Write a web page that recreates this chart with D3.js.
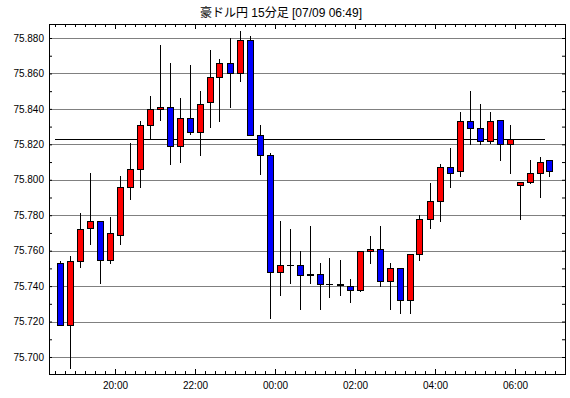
<!DOCTYPE html>
<html>
<head>
<meta charset="utf-8">
<script src="https://cdn.jsdelivr.net/npm/d3@7"></script>
<style>
  body { margin: 0; background: #fff; }
  text { font-family: "Liberation Sans", Arial, sans-serif; font-size: 10px; fill: #000; }
</style>
</head>
<body>
<svg id="chart" width="570" height="398"></svg>
<script>
var title = "豪ドル円 15分足 [07/09 06:49]";

var times = ["18:30", "18:45", "19:00", "19:15", "19:30", "19:45", "20:00", "20:15", "20:30", "20:45",
  "21:00", "21:15", "21:30", "21:45", "22:00", "22:15", "22:30", "22:45", "23:00", "23:15",
  "23:30", "23:45", "00:00", "00:15", "00:30", "00:45", "01:00", "01:15", "01:30", "01:45",
  "02:00", "02:15", "02:30", "02:45", "03:00", "03:15", "03:30", "03:45", "04:00", "04:15",
  "04:30", "04:45", "05:00", "05:15", "05:30", "05:45", "06:00", "06:15", "06:30", "06:45"];

var open = [75.753, 75.718, 75.754, 75.773, 75.777, 75.755, 75.769, 75.796, 75.806, 75.831,
  75.840, 75.841, 75.819, 75.835, 75.827, 75.844, 75.858, 75.866, 75.860, 75.879,
  75.825, 75.814, 75.748, 75.752, 75.752, 75.746, 75.747, 75.741, 75.7405, 75.740,
  75.738, 75.760, 75.761, 75.743, 75.750, 75.732, 75.758, 75.778, 75.788, 75.807,
  75.805, 75.833, 75.829, 75.822, 75.834, 75.820, 75.797, 75.799, 75.804, 75.811];

var high = [75.754, 75.757, 75.781, 75.804, 75.777, 75.779, 75.802, 75.821, 75.833, 75.847,
  75.876, 75.866, 75.846, 75.865, 75.850, 75.873, 75.868, 75.880, 75.884, 75.881,
  75.831, 75.815, 75.777, 75.772, 75.760, 75.774, 75.753, 75.756, 75.755, 75.744,
  75.760, 75.768, 75.774, 75.753, 75.750, 75.758, 75.780, 75.798, 75.809, 75.818,
  75.838, 75.850, 75.843, 75.838, 75.834, 75.831, 75.799, 75.811, 75.813, 75.811];

var low = [75.718, 75.694, 75.751, 75.764, 75.742, 75.753, 75.764, 75.789, 75.796, 75.823,
  75.834, 75.809, 75.810, 75.826, 75.814, 75.830, 75.833, 75.841, 75.856, 75.825,
  75.803, 75.722, 75.735, 75.742, 75.727, 75.742, 75.727, 75.734, 75.735, 75.731,
  75.737, 75.753, 75.740, 75.727, 75.725, 75.725, 75.755, 75.773, 75.777, 75.796,
  75.802, 75.820, 75.820, 75.821, 75.811, 75.804, 75.778, 75.798, 75.790, 75.802];

var close = [75.718, 75.754, 75.772, 75.777, 75.755, 75.770, 75.796, 75.806, 75.831, 75.840,
  75.841, 75.819, 75.835, 75.827, 75.843, 75.858, 75.866, 75.860, 75.879, 75.825,
  75.814, 75.748, 75.752, 75.752, 75.746, 75.747, 75.741, 75.741, 75.741, 75.738,
  75.760, 75.761, 75.743, 75.750, 75.732, 75.758, 75.778, 75.788, 75.807, 75.804,
  75.833, 75.829, 75.822, 75.833, 75.820, 75.823, 75.799, 75.804, 75.810, 75.805];

var priceTicks = [75.700, 75.720, 75.740, 75.760, 75.780, 75.800, 75.820, 75.840, 75.860, 75.880];
var refPrice = 75.8232;

var upColor = "#ff0000";
var downColor = "#0000ff";

// times before noon belong to the next day
var parseTime = function (s) {
  var p = s.split(":").map(Number);
  return new Date(2012, 6, p[0] >= 12 ? 8 : 9, p[0], p[1]);
};

var candles = times.map(function (t, i) {
  return { t: parseTime(t), o: open[i], h: high[i], l: low[i], c: close[i] };
});

var svg = d3.select("#chart");
var plotLeft = 49, plotRight = 565, plotTop = 24, plotBottom = 374;

var x = d3.scaleTime()
  .domain([new Date(2012, 6, 8, 18, 21), new Date(2012, 6, 9, 7, 15)])
  .range([plotLeft, plotRight]);

var y = d3.scaleLinear()
  .domain([75.6904, 75.8879])
  .range([plotBottom, plotTop]);

var crisp = function (v) { return Math.round(v) + 0.5; };

svg.append("text")
  .attr("x", 281)
  .attr("y", 17)
  .attr("text-anchor", "middle")
  .style("font-size", "12px")
  .style("font-family", "'Liberation Sans', 'Noto Sans CJK JP', sans-serif")
  .text(title);

// dotted grid
svg.append("g")
  .selectAll("line")
  .data(priceTicks)
  .join("line")
  .attr("x1", plotLeft + 0.5)
  .attr("x2", plotRight + 0.5)
  .attr("y1", function (d) { return crisp(y(d)); })
  .attr("y2", function (d) { return crisp(y(d)); })
  .attr("stroke", "#000")
  .attr("stroke-width", 1)
  .attr("stroke-dasharray", "1,1");

// reference line
svg.append("line")
  .attr("x1", x(candles[0].t))
  .attr("x2", x(candles[candles.length - 1].t))
  .attr("y1", crisp(y(refPrice)))
  .attr("y2", crisp(y(refPrice)))
  .attr("stroke", "#000")
  .attr("stroke-width", 1);

// candles
var half = 7.5 * 60 * 1000;
var g = svg.append("g");
candles.forEach(function (d) {
  var cx = crisp(x(new Date(d.t.getTime() + half)) - 0.5);
  g.append("line")
    .attr("x1", cx).attr("x2", cx)
    .attr("y1", Math.round(y(d.h)))
    .attr("y2", Math.round(y(d.l)) + 1)
    .attr("stroke", "#000")
    .attr("stroke-width", 1);
  var y1 = crisp(y(Math.max(d.o, d.c)));
  var y2 = crisp(y(Math.min(d.o, d.c)));
  if (y2 - y1 < 1) {
    g.append("line")
      .attr("x1", cx - 3.5).attr("x2", cx + 3.5)
      .attr("y1", y1).attr("y2", y1)
      .attr("stroke", "#000");
  } else {
    g.append("rect")
      .attr("x", cx - 3)
      .attr("y", y1)
      .attr("width", 6)
      .attr("height", y2 - y1)
      .attr("fill", d.c >= d.o ? upColor : downColor)
      .attr("stroke", "#000")
      .attr("stroke-width", 1);
  }
});

// axes: ticks point inward on all four sides
var every15 = d3.timeMinute.every(15);
var every2h = d3.timeHour.every(2);
var minorPrice = y.ticks(20);

var addAxis = function (axis, tx, ty) {
  var a = svg.append("g")
    .attr("transform", "translate(" + tx + "," + ty + ")")
    .call(axis);
  a.select(".domain").remove();
  a.selectAll("text").style("font-family", "'Liberation Sans', Arial, sans-serif").style("font-size", "10px");
  return a;
};

addAxis(d3.axisBottom(x).ticks(every15).tickSize(-3).tickSizeOuter(0).tickFormat(""), 0, plotBottom);
addAxis(d3.axisBottom(x).ticks(every2h).tickSize(-5).tickSizeOuter(0).tickPadding(8)
  .tickFormat(d3.timeFormat("%H:%M")), 0, plotBottom);
addAxis(d3.axisTop(x).ticks(every15).tickSize(-3).tickSizeOuter(0).tickFormat(""), 0, plotTop);
addAxis(d3.axisTop(x).ticks(every2h).tickSize(-5).tickSizeOuter(0).tickFormat(""), 0, plotTop);
addAxis(d3.axisLeft(y).tickValues(minorPrice).tickSize(-3).tickSizeOuter(0).tickFormat(""), plotLeft, 0);
addAxis(d3.axisLeft(y).tickValues(priceTicks).tickSize(0).tickSizeOuter(0).tickPadding(5)
  .tickFormat(d3.format(".3f")), plotLeft, 0);
addAxis(d3.axisRight(y).tickValues(minorPrice).tickSize(-3).tickSizeOuter(0).tickFormat(""), plotRight, 0);

// frame
svg.append("rect")
  .attr("x", plotLeft + 0.5)
  .attr("y", plotTop + 0.5)
  .attr("width", plotRight - plotLeft)
  .attr("height", plotBottom - plotTop)
  .attr("fill", "none")
  .attr("stroke", "#000")
  .attr("stroke-width", 1);
</script>
</body>
</html>
